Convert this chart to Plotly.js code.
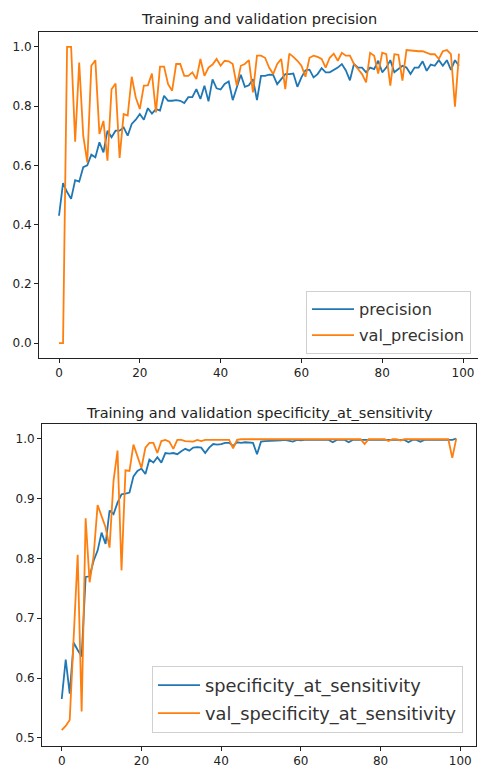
<!DOCTYPE html>
<html>
<head>
<meta charset="utf-8">
<script src="https://cdn.plot.ly/plotly-3.0.1.min.js"></script>
<style>html,body{margin:0;padding:0;background:#fff;}#chart{width:478px;height:765px;}</style>
</head>
<body>
<div id="chart"></div>
<script>
const epochs = Array.from({length: 100}, (_, i) => i);

const precision = [
  0.43, 0.54, 0.51, 0.487, 0.55, 0.545, 0.594, 0.60, 0.636, 0.627,
  0.678, 0.644, 0.717, 0.695, 0.717, 0.717, 0.728, 0.70, 0.74, 0.754,
  0.773, 0.754, 0.793, 0.775, 0.79, 0.785, 0.835, 0.818, 0.818, 0.82,
  0.818, 0.81, 0.83, 0.83, 0.857, 0.824, 0.869, 0.816, 0.89, 0.86,
  0.856, 0.875, 0.883, 0.82, 0.863, 0.906, 0.865, 0.87, 0.891, 0.82,
  0.902, 0.902, 0.906, 0.905, 0.874, 0.89, 0.908, 0.908, 0.91, 0.865,
  0.897, 0.921, 0.923, 0.897, 0.908, 0.928, 0.914, 0.914, 0.921, 0.93,
  0.942, 0.92, 0.887, 0.942, 0.93, 0.93, 0.914, 0.93, 0.925, 0.953,
  0.914, 0.93, 0.955, 0.914, 0.925, 0.936, 0.93, 0.908, 0.93, 0.93,
  0.951, 0.919, 0.94, 0.936, 0.955, 0.936, 0.955, 0.922, 0.955, 0.936
];

const valPrecision = [
  0.0, 0.0, 1.0, 1.0, 0.68, 0.947, 0.70, 0.61, 0.936, 0.955,
  0.706, 0.75, 0.616, 0.857, 0.876, 0.625, 0.773, 0.768, 0.899, 0.829,
  0.79, 0.869, 0.87, 0.91, 0.779, 0.933, 0.933, 0.874, 0.852, 0.942,
  0.942, 0.902, 0.902, 0.914, 0.891, 0.959, 0.902, 0.93, 0.94, 0.959,
  0.936, 0.953, 0.951, 0.942, 0.869, 0.936, 0.942, 0.955, 0.846, 0.97,
  0.97, 0.963, 0.93, 0.908, 0.942, 0.959, 0.857, 0.977, 0.966, 0.953,
  0.936, 0.899, 0.963, 0.97, 0.966, 0.959, 0.93, 0.963, 0.977, 0.953,
  0.98, 0.97, 0.97, 0.942, 0.925, 0.908, 0.88, 0.98, 0.97, 0.91,
  0.98, 0.975, 0.869, 0.975, 0.973, 0.886, 0.989, 0.987, 0.987, 0.985,
  0.985, 0.98, 0.975, 0.975, 0.959, 0.985, 0.989, 0.975, 0.798, 0.977
];

const specificity = [
  0.565, 0.631, 0.574, 0.659, 0.647, 0.636, 0.769, 0.77, 0.796, 0.813,
  0.843, 0.824, 0.880, 0.874, 0.893, 0.907, 0.908, 0.91, 0.937, 0.946,
  0.95, 0.941, 0.965, 0.96, 0.969, 0.96, 0.976, 0.975, 0.976, 0.974,
  0.979, 0.983, 0.98, 0.985, 0.986, 0.985, 0.976, 0.985, 0.991, 0.99,
  0.991, 0.993, 0.993, 0.988, 0.994, 0.993, 0.994, 0.994, 0.993, 0.974,
  0.995, 0.996, 0.996, 0.997, 0.997, 0.997, 0.998, 0.997, 0.995, 0.998,
  0.997, 0.998, 0.998, 0.998, 0.998, 0.998, 0.998, 0.998, 0.994, 0.998,
  0.998, 0.998, 0.994, 0.998, 0.998, 0.998, 0.997, 0.998, 0.998, 0.998,
  0.998, 0.998, 0.997, 0.998, 0.998, 0.998, 0.998, 0.994, 0.998, 0.998,
  0.995, 0.998, 0.998, 0.998, 0.998, 0.998, 0.998, 0.998, 0.998, 1.0
];

const valSpecificity = [
  0.513, 0.52, 0.53, 0.669, 0.806, 0.544, 0.867, 0.76, 0.804, 0.889,
  0.87, 0.852, 0.818, 0.930, 0.98, 0.78, 0.947, 0.946, 0.99, 0.97,
  0.951, 0.985, 0.993, 0.993, 0.976, 0.996, 0.998, 0.995, 0.983, 0.998,
  0.998, 0.996, 0.996, 0.995, 0.998, 0.996, 0.998, 0.998, 0.998, 0.998,
  0.998, 0.998, 0.998, 0.984, 0.998, 0.999, 0.999, 0.999, 0.999, 0.999,
  0.999, 0.999, 0.999, 0.999, 0.999, 0.999, 0.999, 0.999, 0.999, 0.999,
  0.999, 0.999, 0.999, 0.999, 0.999, 0.999, 0.999, 0.999, 0.999, 0.999,
  0.999, 0.999, 0.999, 0.999, 0.999, 0.999, 0.991, 0.999, 0.999, 0.999,
  0.999, 0.999, 0.996, 0.999, 0.999, 0.997, 0.999, 0.999, 0.999, 0.999,
  0.999, 0.999, 0.999, 0.999, 0.999, 0.999, 0.999, 0.999, 0.968, 1.0
];

const xTicks = [0, 20, 40, 60, 80, 100];
const topYTicks = [0.0, 0.2, 0.4, 0.6, 0.8, 1.0];
const botYTicks = [0.5, 0.6, 0.7, 0.8, 0.9, 1.0];

const BLUE = '#1f77b4', ORANGE = '#ff7f0e';
const FONT = 'DejaVu Sans, sans-serif';
const W = 478, H = 765;

const traces = [
  {x: epochs, y: precision, name: 'precision', type: 'scatter', mode: 'lines',
   line: {color: BLUE, width: 1.8}, xaxis: 'x', yaxis: 'y', legend: 'legend', legendgroup: 'a'},
  {x: epochs, y: valPrecision, name: 'val_precision', type: 'scatter', mode: 'lines',
   line: {color: ORANGE, width: 1.8}, xaxis: 'x', yaxis: 'y', legend: 'legend', legendgroup: 'b'},
  {x: epochs, y: specificity, name: 'specificity_at_sensitivity', type: 'scatter', mode: 'lines',
   line: {color: BLUE, width: 1.8}, xaxis: 'x2', yaxis: 'y2', legend: 'legend2', legendgroup: 'c'},
  {x: epochs, y: valSpecificity, name: 'val_specificity_at_sensitivity', type: 'scatter', mode: 'lines',
   line: {color: ORANGE, width: 1.8}, xaxis: 'x2', yaxis: 'y2', legend: 'legend2', legendgroup: 'd'}
];

const axisCommon = {
  showgrid: false, zeroline: false, showline: true, linecolor: '#222', linewidth: 1,
  ticks: 'outside', ticklen: 4, tickwidth: 1, tickcolor: '#222',
  tickfont: {family: FONT, size: 12, color: '#222'}
};

const layout = {
  width: W, height: H,
  margin: {l: 0, r: 0, t: 0, b: 0},
  paper_bgcolor: '#fff', plot_bgcolor: '#fff',
  font: {family: FONT, color: '#222'},
  xaxis: Object.assign({}, axisCommon, {
    domain: [39 / W, 1], range: [-4.95, 103.7], tickvals: xTicks, mirror: true, anchor: 'y'
  }),
  yaxis: Object.assign({}, axisCommon, {
    domain: [(H - 358) / H, (H - 32) / H], range: [-0.05, 1.05], tickvals: topYTicks,
    tickformat: '.1f', anchor: 'x'
  }),
  xaxis2: Object.assign({}, axisCommon, {
    domain: [42 / W, 476 / W], range: [-4.95, 103.95], tickvals: xTicks, mirror: true, anchor: 'y2'
  }),
  yaxis2: Object.assign({}, axisCommon, {
    domain: [(H - 746) / H, (H - 424) / H], range: [0.4865, 1.0245], tickvals: botYTicks,
    tickformat: '.1f', mirror: true, anchor: 'x2'
  }),
  legend: {
    x: 471 / W, y: (H - 291) / H, xanchor: 'right', yanchor: 'top',
    bgcolor: 'rgba(255,255,255,0.8)', bordercolor: '#d0d0d0', borderwidth: 1,
    itemwidth: 42, tracegroupgap: 2,
    font: {family: FONT, size: 16.2, color: '#333'}
  },
  legend2: {
    x: 463 / W, y: (H - 666) / H, xanchor: 'right', yanchor: 'top',
    bgcolor: 'rgba(255,255,255,0.8)', bordercolor: '#d0d0d0', borderwidth: 1,
    itemwidth: 42, tracegroupgap: 2,
    font: {family: FONT, size: 17.8, color: '#333'}
  },
  annotations: [
    {text: 'Training and validation precision', xref: 'paper', yref: 'paper',
     x: 259 / W, y: (H - 19) / H, xanchor: 'center', yanchor: 'middle', showarrow: false,
     font: {family: FONT, size: 14.5, color: '#222'}},
    {text: 'Training and validation specificity_at_sensitivity', xref: 'paper', yref: 'paper',
     x: 259 / W, y: (H - 413) / H, xanchor: 'center', yanchor: 'middle', showarrow: false,
     font: {family: FONT, size: 14.5, color: '#222'}}
  ]
};

Plotly.newPlot('chart', traces, layout, {staticPlot: true, displayModeBar: false});
</script>
</body>
</html>
